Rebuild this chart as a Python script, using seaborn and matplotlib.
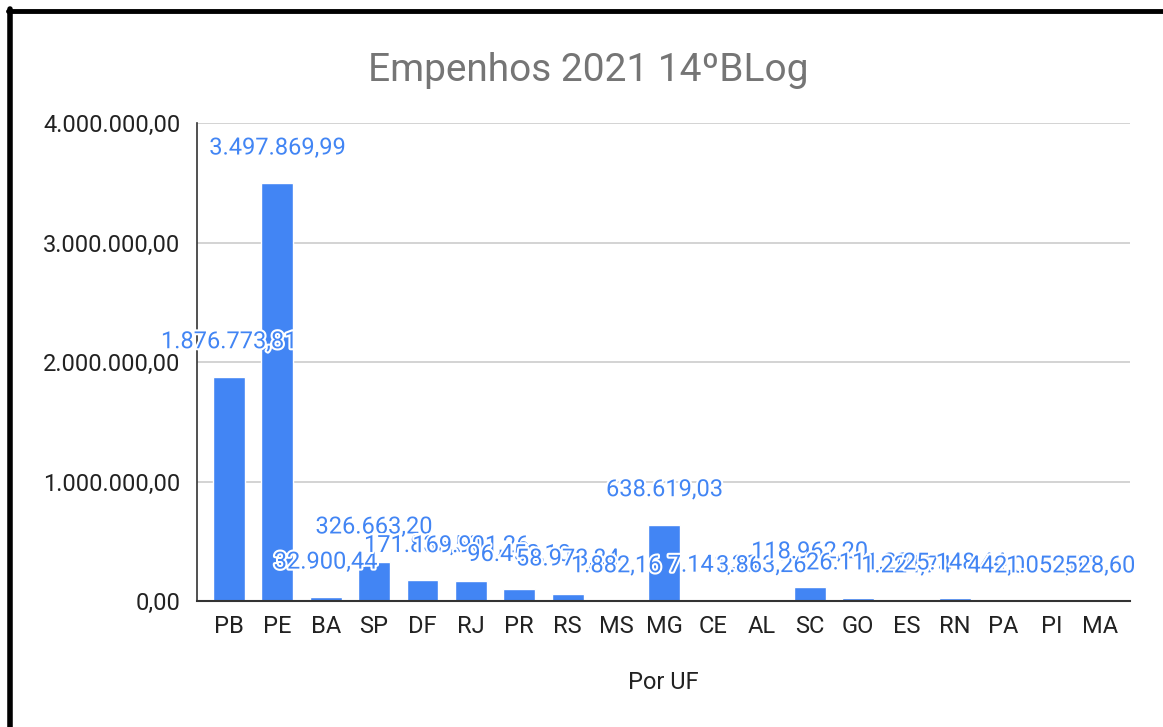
import matplotlib
matplotlib.use('Agg')
import matplotlib.pyplot as plt
import matplotlib.patheffects as pe
from matplotlib.lines import Line2D
import seaborn as sns
import pandas as pd

# Valores empenhados por UF
ufs = ['PB', 'PE', 'BA', 'SP', 'DF', 'RJ', 'PR', 'RS', 'MS', 'MG',
       'CE', 'AL', 'SC', 'GO', 'ES', 'RN', 'PA', 'PI', 'MA']
valores = [1876773.81, 3497869.99, 32900.44, 326663.20, 171836.50, 169901.26,
           96452.10, 58973.84, 1882.16, 638619.03, 7141.38, 3863.26,
           118962.20, 26111.20, 1224.74, 25148.44, 442.00, 1052.00, 528.60]

yticks = [0, 1000000, 2000000, 3000000, 4000000]

blue = '#4285F4'


def br(v):
    s = f'{v:,.2f}'
    return s.replace(',', 'X').replace('.', ',').replace('X', '.')


df = pd.DataFrame({'uf': ufs, 'valor': valores})

sns.set_style('white')
plt.rcParams['font.family'] = ['Roboto', 'DejaVu Sans']

fig = plt.figure(figsize=(11.63, 7.27), dpi=100)
ax = fig.add_axes([0.1694, 0.1733, 0.8022, 0.6575])

sns.barplot(data=df, x='uf', y='valor', color=blue, width=0.66, ax=ax,
            saturation=1)

ax.set_ylim(0, 4000000)
ax.set_xlim(-0.66, 18.62)
ax.set_yticks(yticks)
ax.set_yticklabels([br(t) for t in yticks], fontsize=17, color='#222222')
ax.tick_params(axis='x', labelsize=17, colors='#222222', length=0, pad=10)
ax.tick_params(axis='y', length=0, pad=12)
ax.yaxis.grid(True, color='#cccccc', linewidth=1.2)
ax.set_axisbelow(True)

for s in ['top', 'right']:
    ax.spines[s].set_visible(False)
ax.spines['left'].set_color('#333333')
ax.spines['bottom'].set_color('#333333')
ax.spines['left'].set_linewidth(1.2)
ax.spines['bottom'].set_linewidth(1.5)

# rótulos de dados
for i, v in enumerate(valores):
    ax.annotate(br(v), (i, v), xytext=(0, 35), textcoords='offset pixels',
                ha='center', va='center', fontsize=17, color=blue,
                path_effects=[pe.withStroke(linewidth=3, foreground='white')])

ax.set_xlabel('Por UF', fontsize=17, color='#222222', labelpad=24)
ax.set_ylabel('')

fig.text(0.506, 0.903, 'Empenhos 2021 14ºBLog', ha='center', va='center',
         fontsize=28, color='#757575')

# moldura preta da captura
fig.add_artist(Line2D([0.007, 1.0], [0.985, 0.985], color='black', linewidth=3.5,
                      transform=fig.transFigure))
fig.add_artist(Line2D([0.009, 0.009], [0.0, 0.987], color='black', linewidth=4,
                      transform=fig.transFigure))

fig.savefig('out.png', dpi=100, facecolor='white')
